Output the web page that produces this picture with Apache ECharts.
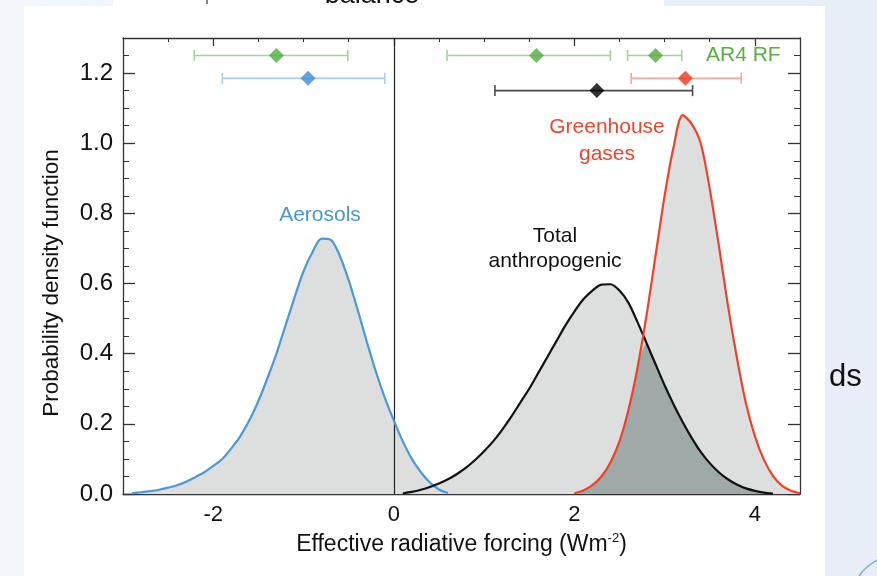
<!DOCTYPE html>
<html>
<head>
<meta charset="utf-8">
<script src="https://cdn.jsdelivr.net/npm/echarts@6/dist/echarts.min.js"></script>
<style>
  html, body { margin: 0; padding: 0; width: 877px; height: 576px; overflow: hidden;
    background: linear-gradient(90deg, #f2f6fb 0%, #eef3f9 50%, #e8eef7 100%); }
  #panel { position: absolute; left: 24px; top: 6px; width: 801px; height: 570px; background: #fff; }
  #tab { position: absolute; left: 113px; top: 0; width: 551px; height: 8px; background: #fff; }
  #chart { position: absolute; left: 0; top: 0; width: 877px; height: 576px; }
</style>
</head>
<body>
<div id="panel"></div>
<div id="tab"></div>
<div id="chart"></div>
<script>
// Shared forcing grid (W m-2) on which the three density curves are sampled
const forcing = [
  -2.9, -2.8, -2.7, -2.6, -2.5, -2.4, -2.3, -2.2, -2.1, -2.0,
  -1.9, -1.8, -1.7, -1.6, -1.5, -1.4, -1.3, -1.2, -1.1, -1.0,
  -0.9, -0.8, -0.7, -0.6, -0.5, -0.4, -0.3, -0.2, -0.1, 0.0,
  0.1, 0.2, 0.3, 0.4, 0.5, 0.6, 0.7, 0.8, 0.9, 1.0,
  1.1, 1.2, 1.3, 1.4, 1.5, 1.6, 1.7, 1.8, 1.9, 2.0,
  2.1, 2.2, 2.3, 2.4, 2.5, 2.6, 2.7, 2.8, 2.9, 3.0,
  3.1, 3.2, 3.3, 3.4, 3.5, 3.6, 3.7, 3.8, 3.9, 4.0,
  4.1, 4.2, 4.3, 4.4, 4.5
];

// Aerosol ERF probability density (null = outside the distribution)
const aerosolPdf = [
  0.002, 0.005, 0.008, 0.012, 0.018, 0.025, 0.035, 0.048, 0.062, 0.080,
  0.100, 0.130, 0.165, 0.210, 0.265, 0.330, 0.400, 0.480, 0.560, 0.635,
  0.690, 0.728, 0.725, 0.680, 0.610, 0.525, 0.435, 0.350, 0.275, 0.210,
  0.150, 0.100, 0.062, 0.033, 0.013, 0.003, null, null, null, null,
  null, null, null, null, null, null, null, null, null, null,
  null, null, null, null, null, null, null, null, null, null,
  null, null, null, null, null, null, null, null, null, null,
  null, null, null, null, null
];

// Total anthropogenic ERF probability density
const totalPdf = [
  null, null, null, null, null, null, null, null, null, null,
  null, null, null, null, null, null, null, null, null, null,
  null, null, null, null, null, null, null, null, null, null,
  0.002, 0.006, 0.012, 0.020, 0.030, 0.042, 0.057, 0.075, 0.097, 0.122,
  0.150, 0.183, 0.220, 0.260, 0.300, 0.345, 0.390, 0.435, 0.480, 0.520,
  0.555, 0.580, 0.597, 0.598, 0.580, 0.545, 0.490, 0.430, 0.370, 0.310,
  0.255, 0.205, 0.160, 0.120, 0.088, 0.062, 0.042, 0.027, 0.016, 0.009,
  0.004, 0.001, null, null, null
];

// Well-mixed greenhouse gas ERF probability density
const ghgPdf = [
  null, null, null, null, null, null, null, null, null, null,
  null, null, null, null, null, null, null, null, null, null,
  null, null, null, null, null, null, null, null, null, null,
  null, null, null, null, null, null, null, null, null, null,
  null, null, null, null, null, null, null, null, null, 0.002,
  0.010, 0.025, 0.050, 0.090, 0.150, 0.240, 0.360, 0.510, 0.680, 0.850,
  0.990, 1.080, 1.055, 1.000, 0.870, 0.710, 0.540, 0.390, 0.260, 0.165,
  0.098, 0.052, 0.024, 0.009, 0.002
];

// Best estimates and uncertainty ranges drawn above the curves
const rfRow   = ['AR4 aerosol', 'AR5 aerosol', 'AR4 total', 'AR4 GHG', 'AR5 GHG', 'AR5 total'];
const rfLevel = [1.25, 1.185, 1.25, 1.25, 1.185, 1.15];
const rfBest  = [-1.30, -0.95, 1.58, 2.90, 3.23, 2.25];
const rfLow   = [-2.21, -1.90, 0.59, 2.59, 2.63, 1.12];
const rfHigh  = [-0.51, -0.10, 2.40, 3.19, 3.85, 3.31];

// Axis ticks
const xMajorTicks = [-2, 0, 2, 4];
const yMajorTicks = [0, 0.2, 0.4, 0.6, 0.8, 1.0, 1.2];

// Styling
const rangeColor = ['#9fd495', '#a8cdee', '#9fd495', '#9fd495', '#f6a694', '#4a4a4a'];
const bestColor  = ['#52ad3d', '#3f8fd8', '#52ad3d', '#52ad3d', '#f2371d', '#000000'];
const FONT = "'Liberation Sans', Arial, Helvetica, sans-serif";
const AXIS_COLOR = '#333';

const toPairs = ys => forcing.map((x, i) => [x, ys[i]]).filter(p => p[1] !== null);
// Region under both the total and the greenhouse-gas curves
const overlapPairs = forcing
  .map((x, i) => (totalPdf[i] !== null && ghgPdf[i] !== null) ? [x, Math.min(totalPdf[i], ghgPdf[i])] : null)
  .filter(Boolean);

const chart = echarts.init(document.getElementById('chart'), null, { renderer: 'canvas' });

function xAxisDef(position, major, withLabels) {
  return {
    type: 'value', min: -3, max: 4.5, interval: 0.5, position: position,
    axisLine: { show: !major, onZero: false, lineStyle: { color: AXIS_COLOR, width: 1.3 } },
    axisTick: major
      ? { show: true, inside: true, length: 8, customValues: xMajorTicks, lineStyle: { color: AXIS_COLOR, width: 1.3 } }
      : { show: true, inside: true, length: 4, lineStyle: { color: AXIS_COLOR, width: 1 } },
    axisLabel: withLabels ? {
      show: true, margin: 10, color: '#111', fontSize: 22, fontFamily: FONT,
      formatter: v => { const k = Math.round(v * 10); return k % 20 === 0 ? String(k / 10) : ''; }
    } : { show: false },
    splitLine: { show: false }
  };
}

function yAxisDef(position, major, withLabels) {
  return {
    type: 'value', min: 0, max: 1.3, interval: 0.05, position: position,
    axisLine: { show: !major, onZero: false, lineStyle: { color: AXIS_COLOR, width: 1.3 } },
    axisTick: major
      ? { show: true, inside: true, length: 12, customValues: yMajorTicks, lineStyle: { color: AXIS_COLOR, width: 1.3 } }
      : { show: true, inside: true, length: 6, lineStyle: { color: AXIS_COLOR, width: 1 } },
    axisLabel: withLabels ? {
      show: true, margin: 10, color: '#111', fontSize: 24, fontFamily: FONT,
      formatter: v => { const k = Math.round(v * 100); return k % 20 === 0 ? (k / 100).toFixed(1) : ''; }
    } : { show: false },
    splitLine: { show: false }
  };
}

const xBottom = xAxisDef('bottom', false, true);
xBottom.name = 'Effective radiative forcing (Wm{sup|-2})';
xBottom.nameLocation = 'middle';
xBottom.nameGap = 38;
xBottom.nameTextStyle = {
  color: '#111', fontSize: 23, fontFamily: FONT, lineHeight: 26,
  rich: { sup: { fontSize: 13, fontFamily: FONT, color: '#111', verticalAlign: 'top', lineHeight: 16 } }
};

const areaSeries = (name, pairs, fill, z) => ({
  name: name, type: 'line', data: pairs, smooth: 0.3, showSymbol: false, silent: true,
  lineStyle: { width: 0, opacity: 0 }, areaStyle: { color: fill, opacity: 1 }, z: z
});
const lineSeries = (name, ys, color) => ({
  name: name, type: 'line', data: toPairs(ys), smooth: 0.3, showSymbol: false, silent: true,
  lineStyle: { width: 2.2, color: color }, z: 5
});

chart.setOption({
  animation: false,
  backgroundColor: 'transparent',
  grid: { left: 123, right: 77, top: 38, bottom: 82, containLabel: false },
  xAxis: [xBottom, xAxisDef('bottom', true, false), xAxisDef('top', false, false), xAxisDef('top', true, false)],
  yAxis: [yAxisDef('left', false, true), yAxisDef('left', true, false), yAxisDef('right', false, false), yAxisDef('right', true, false)],
  graphic: [
    { type: 'text', x: 52, y: 283, rotation: Math.PI / 2,
      style: { text: 'Probability density function', fill: '#111', font: '22.5px ' + FONT, align: 'center', verticalAlign: 'middle' } },
    { type: 'text', x: 320, y: 215,
      style: { text: 'Aerosols', fill: '#4a96d6', font: '21px ' + FONT, align: 'center', verticalAlign: 'middle' } },
    { type: 'text', x: 555, y: 236,
      style: { text: 'Total', fill: '#111', font: '21px ' + FONT, align: 'center', verticalAlign: 'middle' } },
    { type: 'text', x: 555, y: 261,
      style: { text: 'anthropogenic', fill: '#111', font: '21px ' + FONT, align: 'center', verticalAlign: 'middle' } },
    { type: 'text', x: 607, y: 127,
      style: { text: 'Greenhouse', fill: '#f0442c', font: '21px ' + FONT, align: 'center', verticalAlign: 'middle' } },
    { type: 'text', x: 607, y: 154,
      style: { text: 'gases', fill: '#f0442c', font: '21px ' + FONT, align: 'center', verticalAlign: 'middle' } },
    { type: 'text', x: 706, y: 55,
      style: { text: 'AR4 RF', fill: '#58b042', font: '21px ' + FONT, align: 'left', verticalAlign: 'middle' } },
    { type: 'text', x: 372, y: -4,
      style: { text: 'balance', fill: '#111', font: '27px ' + FONT, align: 'center', verticalAlign: 'middle' } },
    { type: 'line', shape: { x1: 207, y1: 0, x2: 207, y2: 4 }, style: { stroke: '#333', lineWidth: 1.2 } },
    { type: 'text', x: 829, y: 377,
      style: { text: 'ds', fill: '#111', font: '31px ' + FONT, align: 'left', verticalAlign: 'middle' } },
    { type: 'bezierCurve', shape: { x1: 859, y1: 576, cpx1: 864, cpy1: 568, x2: 877, y2: 560 },
      style: { stroke: '#6aa4e0', lineWidth: 1.4, fill: null } }
  ],
  series: [
    areaSeries('Aerosols fill', toPairs(aerosolPdf), '#dcdfde', 2),
    areaSeries('Total fill', toPairs(totalPdf), '#dcdfde', 2),
    areaSeries('Greenhouse fill', toPairs(ghgPdf), '#dcdfde', 2),
    areaSeries('Overlap fill', overlapPairs, '#9fa9a8', 3),
    Object.assign(lineSeries('Aerosols', aerosolPdf, '#4a9ad8'), {
      markLine: { silent: true, symbol: 'none', label: { show: false },
        lineStyle: { color: '#222', width: 1.2, type: 'solid' }, data: [{ xAxis: 0 }] }
    }),
    lineSeries('Total anthropogenic', totalPdf, '#111'),
    lineSeries('Greenhouse gases', ghgPdf, '#f2402a'),
    {
      name: 'Ranges', type: 'custom', silent: true, z: 8,
      data: rfRow.map((n, i) => [rfLow[i], rfHigh[i], rfLevel[i], i]),
      encode: { x: [0, 1], y: 2 },
      renderItem: (params, api) => {
        const lo = api.coord([api.value(0), api.value(2)]);
        const hi = api.coord([api.value(1), api.value(2)]);
        const c = rangeColor[api.value(3)];
        const st = { stroke: c, lineWidth: 1.6 };
        return { type: 'group', children: [
          { type: 'line', shape: { x1: lo[0], y1: lo[1], x2: hi[0], y2: hi[1] }, style: st },
          { type: 'line', shape: { x1: lo[0], y1: lo[1] - 5.5, x2: lo[0], y2: lo[1] + 5.5 }, style: st },
          { type: 'line', shape: { x1: hi[0], y1: hi[1] - 5.5, x2: hi[0], y2: hi[1] + 5.5 }, style: st }
        ] };
      }
    },
    {
      name: 'Best estimates', type: 'scatter', silent: true, z: 9,
      symbol: 'diamond', symbolSize: [15, 15],
      data: rfBest.map((x, i) => ({ value: [x, rfLevel[i]], itemStyle: { color: bestColor[i] } }))
    }
  ]
});
</script>
</body>
</html>
